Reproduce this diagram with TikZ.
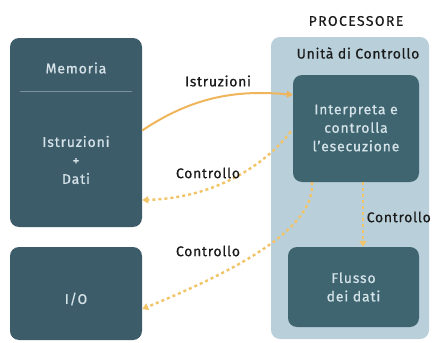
\documentclass[tikz,border=0pt]{standalone}
\usepackage{fontspec}
\setmainfont{Fira Sans}[LetterSpace=6]
\newfontfamily\medfont{Fira Sans}[LetterSpace=6,FakeBold=0.8]
\newfontfamily\labfont{Fira Sans}[LetterSpace=5,FakeBold=0.4]
\newfontfamily\capfont{Fira Sans}[LetterSpace=10,FakeBold=0.4]
\usetikzlibrary{arrows.meta}
\definecolor{darkbox}{HTML}{3D5C6A}
\definecolor{darkbox2}{HTML}{3E6570}
\definecolor{procbg}{HTML}{B9CFDA}
\definecolor{orng}{HTML}{EFB55A}
\definecolor{dotc}{HTML}{F2C468}
\definecolor{boxtext}{HTML}{D5E2E8}
\definecolor{labtext}{HTML}{1A1A1A}
\begin{document}
\begin{tikzpicture}[x=1pt,y=-1pt,
  dbox/.style={fill=darkbox, rounded corners=9pt, draw=none, inner sep=0pt},
  intext/.style={text=boxtext, font=\medfont\fontsize{14}{18.5}\selectfont, align=center, inner sep=0pt},
  lab/.style={text=labtext, font=\labfont\fontsize{14}{16}\selectfont, inner sep=0pt},
  solidarr/.style={draw=orng, line width=2pt, -{Triangle[length=6pt,width=7pt]}},
  dotarr/.style={draw=dotc, line width=2.4pt, dash pattern=on 3pt off 3pt, -{Triangle[length=6pt,width=7pt]}}]
\useasboundingbox (0,0) rectangle (432,343);
\fill[white] (0,0) rectangle (432,343);
% processor background
\node[fill=procbg, rounded corners=9pt, minimum width=158pt, minimum height=302pt, inner sep=0pt] (proc) at (350,188) {};
\node[lab, font=\capfont\fontsize{14}{16}\selectfont] (proctitle) at (356,21) {PROCESSORE};
\node[lab] (cu) at (358,53) {Unità di Controllo};
% boxes
\node[dbox, minimum width=132pt, minimum height=189pt] (mem) at (76,132.5) {};
\node[dbox, minimum width=132pt, minimum height=93pt] (io) at (76,293.5) {};
\node[dbox, fill=darkbox2, minimum width=126pt, minimum height=107pt] (interp) at (356,128.5) {};
\node[dbox, fill=darkbox2, minimum width=131pt, minimum height=80pt] (flusso) at (353.5,287) {};
% texts inside
\node[intext] (memt) at (76,68) {Memoria};
\draw[boxtext!40!darkbox, line width=0.8pt] ([xshift=10pt,yshift=-54pt]mem.north west) -- ([xshift=-10pt,yshift=-54pt]mem.north east);
\node[intext] (memc) at (76,160) {Istruzioni\\+\\Dati};
\node[intext] (iot) at (76,299) {I/O};
\node[intext] (interpt) at (356,128) {Interpreta e\\controlla\\l’esecuzione};
\node[intext] (flussot) at (353.5,287) {Flusso\\dei dati};
% connectors
\draw[solidarr] ([yshift=2pt]mem.east) .. controls (195,95) and (240,90) .. ([yshift=-20pt]interp.north west);
\draw[dotarr] ([xshift=-2pt,yshift=-3pt]interp.west) .. controls (265,165) and (215,198) .. ([yshift=-67.5pt]mem.east);
\draw[dotarr] ([xshift=-44pt]interp.south) .. controls (315,225) and (250,265) .. ([yshift=-15.5pt]io.east);
\draw[dotarr] ([xshift=7pt]interp.south) -- ([xshift=9.5pt]flusso.north);
% labels
\node[lab] (l1) at (218,81) {Istruzioni};
\node[lab] (l2) at (208,173) {Controllo};
\node[lab] (l3) at (208,251) {Controllo};
\node[lab, anchor=east] (l4) at (431,217) {Controllo};
\end{tikzpicture}
\end{document}
